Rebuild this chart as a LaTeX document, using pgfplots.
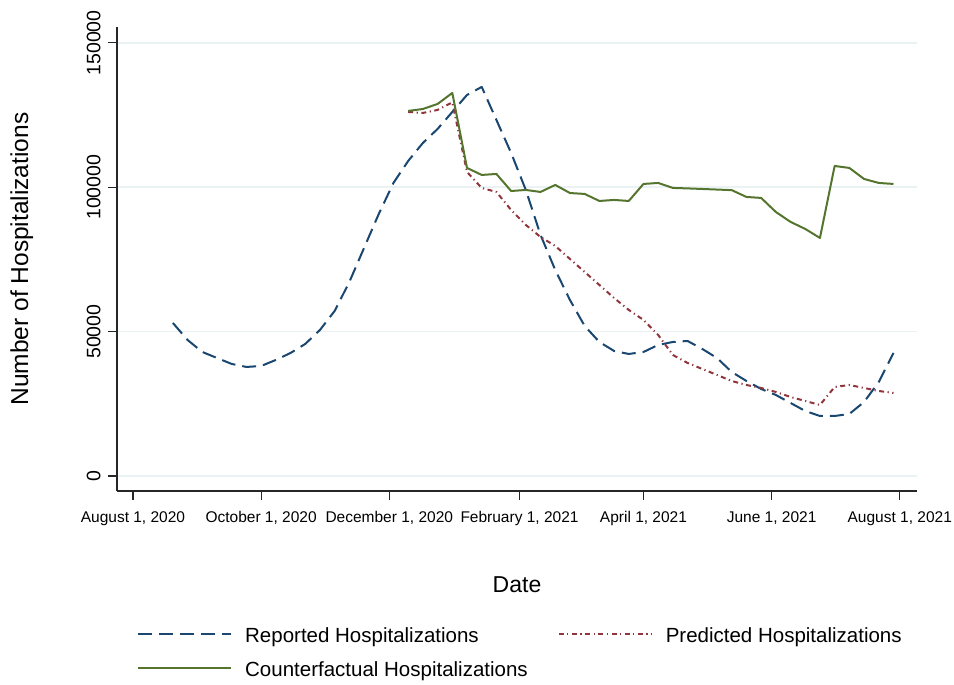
\documentclass[border=0pt]{standalone}
\usepackage{fontspec}
\setmainfont{Liberation Sans}
\usepackage{pgfplots}
\pgfplotsset{compat=1.18}
\definecolor{snavy}{RGB}{26,71,111}
\definecolor{smaroon}{RGB}{144,53,59}
\definecolor{sgreen}{RGB}{85,117,47}
\definecolor{sgrid}{RGB}{234,242,243}

\pgfplotstableread{
day val
19 53000
26 47100
33 42950
40 40870
47 38800
54 37760
61 38100
68 40180
75 42600
82 45720
89 50570
96 57150
103 67200
110 78980
117 90750
124 101500
131 109100
138 115340
145 120190
152 126080
159 131970
166 134740
173 123310
180 111880
187 99060
194 83480
201 71350
208 60960
215 51960
222 46410
229 43300
236 42260
243 42950
250 45380
257 46410
264 46760
271 43990
278 40870
285 36020
292 32910
299 30140
306 28060
313 25290
320 22510
327 20780
334 20780
341 21480
348 25630
355 32560
362 42600
}\reported

\pgfplotstableread{
day val
131 126080
138 125740
145 126770
152 129400
159 105300
166 99750
173 98370
180 92140
187 86940
194 82780
201 79670
208 75160
215 70660
222 66160
229 61650
236 57500
243 54040
250 48840
257 41910
264 39140
271 37060
278 34990
285 32900
292 31520
299 30480
306 29100
313 27360
320 25980
327 24590
334 30830
341 31520
348 30480
355 29440
362 28750
}\predicted

\pgfplotstableread{
day val
131 126430
138 127100
145 128850
152 132660
159 106700
166 104260
173 104600
180 98700
187 99060
194 98370
201 100800
208 98000
215 97680
222 95250
229 95600
236 95250
243 101140
250 101490
257 99760
264 99600
271 99400
278 99200
285 99000
292 96640
299 96300
306 91450
313 88000
320 85560
327 82440
334 107370
341 106690
348 102870
355 101490
362 101140
}\counterfactual

\begin{document}
\begin{tikzpicture}[x=1pt,y=1pt]
\useasboundingbox (0,0) rectangle (954,685);
\begin{axis}[
  at={(117pt,194pt)}, anchor=south west,
  scale only axis, width=800pt, height=464pt,
  xmin=-7.6, xmax=373.2,
  ymin=-5200, ymax=155500,
  axis lines=left,
  axis line style={-, line width=1.2pt, color=black!85},
  tick align=outside,
  major tick length=9pt,
  tick style={line width=1.2pt, color=black!85},
  xtick={0,61,122,184,243,304,365},
  xticklabels={{August 1, 2020},{October 1, 2020},{December 1, 2020},{February 1, 2021},{April 1, 2021},{June 1, 2021},{August 1, 2021}},
  xticklabel style={font=\fontsize{15.5}{18}\selectfont, yshift=-8pt},
  ytick={0,50000,100000,150000},
  scaled y ticks=false,
  yticklabel shift=4pt,
  yticklabel style={font=\fontsize{19.5}{22}\selectfont, rotate=90, anchor=south,
    /pgf/number format/fixed, /pgf/number format/1000 sep={}},
  /pgf/number format/assume math mode=true,
  ymajorgrids,
  grid style={color=sgrid, line width=1.5pt},
  xlabel={Date},
  xlabel style={font=\fontsize{23}{26}\selectfont, at={(axis description cs:0.5,-0.2015)}, anchor=center},
  ylabel={Number of Hospitalizations},
  ylabel style={font=\fontsize{24.5}{28}\selectfont, at={(axis description cs:-0.119,0.5)}, anchor=center, rotate=0},
  legend columns=2,
  legend cell align=left,
  legend image code/.code={\draw[#1] (0pt,3pt) -- (93pt,3pt);},
  legend style={draw=none, fill=none, font=\fontsize{20.5}{24}\selectfont,
    at={(axis description cs:0.025,-0.293)}, anchor=north west,
    inner sep=0pt, row sep=15pt,
    nodes={inner sep=0pt, text height=15pt, text depth=4pt},
    /tikz/every odd column/.append style={column sep=13pt},
    /tikz/every even column/.append style={column sep=30pt}},
]
\addplot[snavy, line width=2pt, dash pattern=on 14pt off 7pt, line join=round] table[x=day,y=val] {\reported};
\addlegendentry{Reported Hospitalizations}
\addplot[smaroon, line width=2pt, dash pattern=on 5pt off 3.5pt on 1.2pt off 3.5pt, line join=round] table[x=day,y=val] {\predicted};
\addlegendentry{Predicted Hospitalizations}
\addplot[sgreen, line width=2pt, line join=round] table[x=day,y=val] {\counterfactual};
\addlegendentry{Counterfactual Hospitalizations}
\end{axis}
\end{tikzpicture}
\end{document}
